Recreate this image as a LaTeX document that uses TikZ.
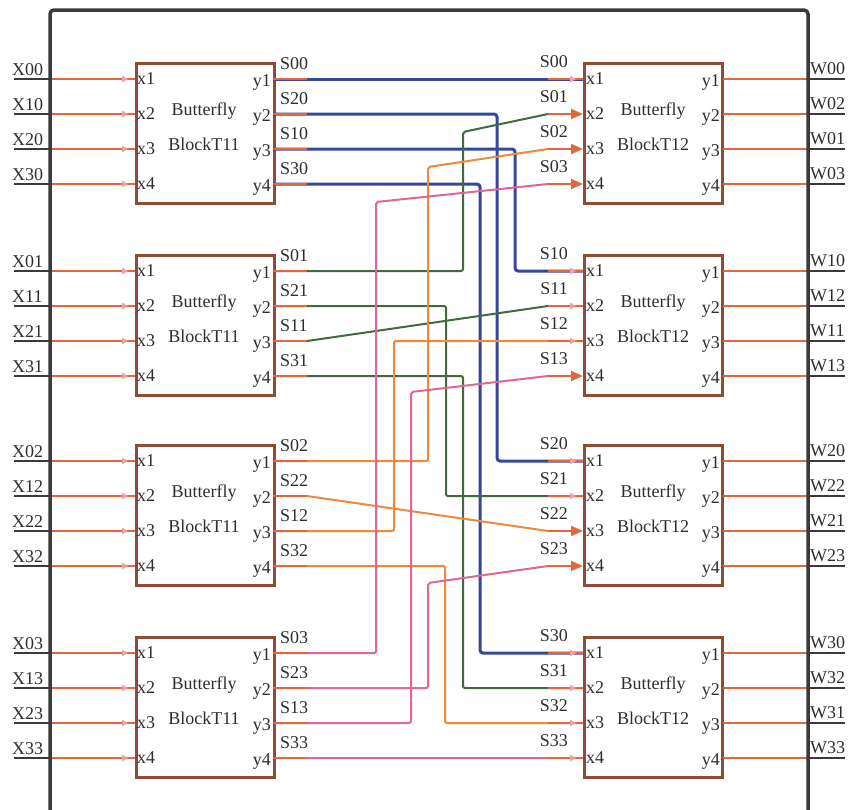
\documentclass[tikz,border=0pt]{standalone}
\usepackage{fontspec}
\setmainfont{Liberation Serif}
\usetikzlibrary{arrows.meta}
\definecolor{cor}{HTML}{E2673F}
\definecolor{cblu}{HTML}{34479B}
\definecolor{cgrn}{HTML}{3F6B3D}
\definecolor{cora}{HTML}{F0893A}
\definecolor{cpnk}{HTML}{E0659A}
\definecolor{cbrn}{HTML}{8E4B36}
\definecolor{cfrm}{HTML}{3A3A3A}
\definecolor{ctxt}{HTML}{2E2E2E}
\definecolor{csml}{HTML}{F2A0A0}
\begin{document}
\begin{tikzpicture}[x=1pt,y=-1pt,
  blk/.style={draw=cbrn,line width=2.5pt,fill=white,minimum width=138pt,minimum height=140pt,inner sep=0pt,anchor=north west},
  txt/.style={text=ctxt,font=\fontsize{18}{18}\selectfont,inner sep=0pt},
  oline/.style={draw=cor,line width=2pt},
  kstub/.style={draw=cfrm,line width=2.5pt},
  wblu/.style={draw=cblu,line width=3pt,rounded corners=3pt},
  wgrn/.style={draw=cgrn,line width=2pt,rounded corners=2pt},
  wora/.style={draw=cora,line width=2pt,rounded corners=2pt},
  wpnk/.style={draw=cpnk,line width=2pt,rounded corners=2pt},
  bigarr/.style={draw=cor,line width=2pt,-{Triangle[length=12pt,width=10pt]}},
  smtri/.style={fill=csml},
  frm/.style={draw=cfrm,line width=3.5pt,rounded corners=4pt}]
\useasboundingbox (0,0) rectangle (857,809);

% blocks, ports, I/O
\foreach \i/\T/\c in {1/62/0,2/254/1,3/444/2,4/636/3} {
  \node[blk] (L\i) at (135,\T) {};
  \node[blk] (R\i) at (583,\T) {};
  \node[txt,anchor=base] (L\i-n1) at (204,\T+53) {Butterfly};
  \node[txt,anchor=base] (L\i-n2) at (204,\T+88) {BlockT11};
  \node[txt,anchor=base] (R\i-n1) at (653,\T+53) {Butterfly};
  \node[txt,anchor=base] (R\i-n2) at (653,\T+88) {BlockT12};
  \foreach \k/\d/\r/\w in {1/17/0/0,2/52/1/2,3/87/2/1,4/122/3/3} {
    \coordinate (L\i-x\k) at (135,\T+\d);
    \coordinate (L\i-y\k) at (273,\T+\d);
    \coordinate (R\i-x\k) at (583,\T+\d);
    \coordinate (R\i-y\k) at (723,\T+\d);
    \coordinate (in\i\k) at (14,\T+\d);
    \coordinate (fi\i\k) at (50,\T+\d);
    \coordinate (fo\i\k) at (810,\T+\d);
    \coordinate (out\i\k) at (845,\T+\d);
    \draw[kstub] (in\i\k) -- (fi\i\k);
    \draw[oline] (fi\i\k) -- (L\i-x\k);
    \draw[oline] (R\i-y\k) -- (fo\i\k);
    \draw[kstub] (fo\i\k) -- (out\i\k);
    \node[txt,anchor=base west] (lx\i\k) at (12,\T+\d-4) {X\r\c};
    \node[txt,anchor=base west] (lw\i\k) at (810,\T+\d-5) {W\c\w};
    \node[txt,anchor=base west] (px\i\k) at (137,\T+\d+5) {x\k};
    \node[txt,anchor=base east] (py\i\k) at (271,\T+\d+7) {y\k};
    \node[txt,anchor=base west] (pq\i\k) at (586,\T+\d+5) {x\k};
    \node[txt,anchor=base east] (pr\i\k) at (720,\T+\d+7) {y\k};
    \node[txt,anchor=base west] (sl\i\k) at (280,\T+\d-10) {S\w\c};
    \node[txt,anchor=base east] (sr\i\k) at (568,\T+\d-12) {S\c\r};
    \fill[smtri,shift={(L\i-x\k)}] (-13,-3.5) -- (-7,0) -- (-13,3.5) -- cycle;
  }
}

% connectors
\draw[wblu] (L1-y1) -- (R1-x1);
\draw[wblu] (L1-y2) -- ++(224,0) |- (R3-x1);
\draw[wblu] (L1-y3) -- ++(242,0) |- (R2-x1);
\draw[wblu] (L1-y4) -- ++(207,0) |- (R4-x1);

\draw[wgrn] (L2-y1) -- ++(190,0) -- ++(0,-139) -- ([xshift=-35pt]R1-x2);
\draw[wgrn] (L2-y2) -- ++(173,0) |- (R3-x2);
\draw[wgrn] ([xshift=34pt]L2-y3) -- ([xshift=-35pt]R2-x2);
\draw[wgrn] (L2-y4) -- ++(190,0) |- (R4-x2);

\draw[wora] (L3-y1) -- ++(155,0) -- ++(0,-294) -- ([xshift=-35pt]R1-x3);
\draw[wora] ([xshift=34pt]L3-y2) -- ([xshift=-35pt]R3-x3);
\draw[wora] (L3-y3) -- ++(121,0) |- (R2-x3);
\draw[wora] (L3-y4) -- ++(172,0) |- (R4-x3);

\draw[wpnk] (L4-y1) -- ++(103,0) -- ++(0,-451) -- ([xshift=-35pt]R1-x4);
\draw[wpnk] (L4-y2) -- ++(155,0) -- ++(0,-105) -- ([xshift=-35pt]R3-x4);
\draw[wpnk] (L4-y3) -- ++(138,0) -- ++(0,-331) -- ([xshift=-35pt]R2-x4);
\draw[wpnk] (L4-y4) -- (R4-x4);

% orange stubs and arrowheads
\foreach \i in {1,2,3,4} {
  \foreach \k in {1,2,3,4} {
    \draw[oline] (L\i-y\k) -- ++(34,0);
  }
}
\foreach \p in {R1-x1,R2-x1,R2-x2,R2-x3,R3-x1,R3-x2,R4-x1,R4-x2,R4-x3,R4-x4} {
  \draw[oline] ([xshift=-35pt]\p) -- (\p);
  \fill[smtri,shift={(\p)}] (-13,-3.5) -- (-7,0) -- (-13,3.5) -- cycle;
}
\foreach \p in {R1-x2,R1-x3,R1-x4,R2-x4,R3-x3,R3-x4} {
  \draw[bigarr] ([xshift=-35pt]\p) -- (\p);
}

% frame
\draw[frm] (50,812) -- (50,10) -- (808,10) -- (808,812);
\end{tikzpicture}
\end{document}
